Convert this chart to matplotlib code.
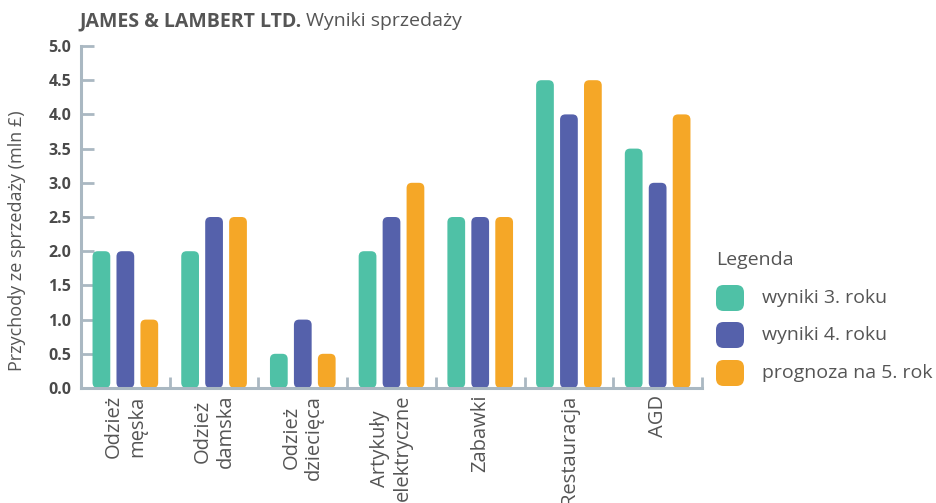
import numpy as np
import matplotlib.pyplot as plt
from matplotlib.patches import FancyBboxPatch

plt.rcParams['font.family'] = ['Open Sans', 'DejaVu Sans']

# data
categories = ['Odzież\nmęska', 'Odzież\ndamska', 'Odzież\ndziecięca',
              'Artykuły\nelektryczne', 'Zabawki', 'Restauracja', 'AGD']
year3 = [2.0, 2.0, 0.5, 2.0, 2.5, 4.5, 3.5]
year4 = [2.0, 2.5, 1.0, 2.5, 2.5, 4.0, 3.0]
year5 = [1.0, 2.5, 0.5, 3.0, 2.5, 4.5, 4.0]
series_names = ['wyniki 3. roku', 'wyniki 4. roku', 'prognoza na 5. rok']
colors = ['#4fc1a6', '#5561ab', '#f5a727']

axis_col = '#aab8c2'
text_col = '#555555'

W, H = 936, 503
fig = plt.figure(figsize=(W / 100, H / 100), dpi=100)
ax = fig.add_axes([81 / W, 1 - 388 / H, (702 - 81) / W, (388 - 46) / H])

n = len(categories)
x = np.arange(n) + 0.5
bw = 0.2
offs = [-0.27, 0.0, 0.27]

ax.set_xlim(0, n)
ax.set_ylim(0, 5)

# pixel aspect so rounded corners look round
ax_w = 702 - 81
ax_h = 388 - 46
asp = (5 / ax_h) / (n / ax_w)

for vals, off, c in zip([year3, year4, year5], offs, colors):
    bars = ax.bar(x + off, vals, width=bw, color=c)
    for b in bars:
        b.set_visible(False)
        r = FancyBboxPatch((b.get_x(), b.get_y()), b.get_width(), b.get_height(),
                           boxstyle='round,pad=0,rounding_size=0.06',
                           mutation_aspect=asp, fc=c, ec='none', zorder=2)
        ax.add_patch(r)

# axes styling
for s in ['top', 'right']:
    ax.spines[s].set_visible(False)
for s in ['left', 'bottom']:
    ax.spines[s].set_color(axis_col)
    ax.spines[s].set_linewidth(2.2)

ax.set_yticks(np.arange(0, 5.01, 0.5))
ax.set_yticklabels(['%.1f' % v for v in np.arange(0, 5.01, 0.5)],
                   fontsize=11.5, fontweight='bold', color='#4a4a4a')
ax.tick_params(axis='y', direction='in', length=9, width=2, color=axis_col, pad=7)

ax.set_xticks(x)
ax.set_xticklabels(categories, rotation=90, fontsize=14.5, color=text_col,
                   va='top', ha='center', linespacing=1.2)
ax.tick_params(axis='x', length=0, pad=5)
ax.set_xticks(np.arange(1, n + 1), minor=True)
ax.tick_params(axis='x', which='minor', direction='in', length=8, width=2, color=axis_col)

ax.set_ylabel('Przychody ze sprzedaży (mln £)', fontsize=13, color=text_col)
ax.yaxis.set_label_coords(-0.088, 0.43)

# title
t1 = fig.text(79 / W, 1 - 21 / H, 'JAMES & LAMBERT LTD.', fontsize=14,
              fontweight='bold', color=text_col, va='center')
fig.canvas.draw()
bb = t1.get_window_extent()
fig.text(bb.x1 / W + 5 / W, 1 - 21 / H, 'Wyniki sprzedaży', fontsize=14,
         color=text_col, va='center')

# legend
fig.text(716 / W, 1 - 260 / H, 'Legenda', fontsize=14, color=text_col, va='center')
leg_y = [298, 335, 373]
for yy, name, c in zip(leg_y, series_names, colors):
    p = FancyBboxPatch((716 / W, 1 - (yy + 13) / H), 28 / W, 26 / H,
                       boxstyle='round,pad=0,rounding_size=0.008',
                       mutation_aspect=W / H, fc=c, ec='none',
                       transform=fig.transFigure)
    fig.add_artist(p)
    fig.text(762 / W, 1 - yy / H, name, fontsize=14, color=text_col, va='center')

fig.savefig('out.png', dpi=100)
